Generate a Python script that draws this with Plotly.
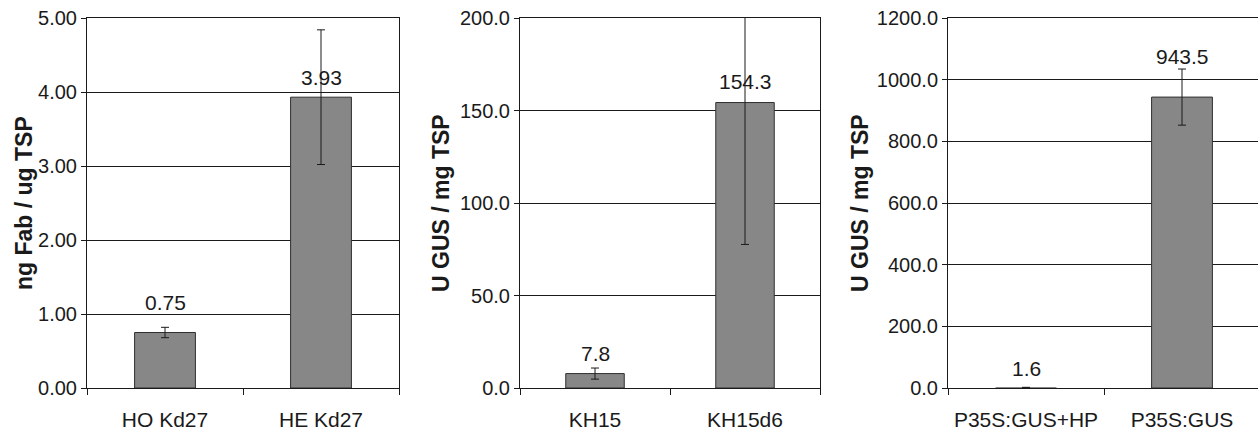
import plotly.graph_objects as go

# ---- data ----
cats1 = ["HO Kd27", "HE Kd27"]
vals1 = [0.75, 3.93]
err1 = [0.07, 0.91]
labels1 = ["0.75", "3.93"]

cats2 = ["KH15", "KH15d6"]
vals2 = [7.8, 154.3]
err2 = [3.0, 76.7]
labels2 = ["7.8", "154.3"]

cats3 = ["P35S:GUS+HP", "P35S:GUS"]
vals3 = [1.6, 943.5]
err3 = [0.6, 91.0]
labels3 = ["1.6", "943.5"]

titles = ["ng Fab / ug TSP", "U GUS / mg TSP", "U GUS / mg TSP"]
yranges = [[0, 5], [0, 200], [0, 1200]]
ydtick = [1, 50, 200]
yfmt = [".2f", ".1f", ".1f"]

# ---- layout / style ----
W, H = 1258, 431
FONT = "Liberation Sans, Arial, sans-serif"
INK = "#1a1a1a"
BAR = "#878787"
label_shift = [[30, 20], [20, 21], [19, 41]]
outline_w = [[1, 1], [1, 1], [0, 1]]
domains = [[87 / W, 399 / W], [520 / W, 820 / W], [948 / W, 1.0]]
title_x = [24 / W, 441 / W, 860 / W]
xranges = [[-0.5, 1.5], [-0.5, 1.5], [-0.5, -0.5 + 310 / 156]]

fig = go.Figure()
panels = [(cats1, vals1, err1, labels1), (cats2, vals2, err2, labels2), (cats3, vals3, err3, labels3)]
for i, (c, v, e, lab) in enumerate(panels):
    n = "" if i == 0 else str(i + 1)
    fig.add_trace(go.Bar(
        x=c, y=v, xaxis="x" + n, yaxis="y" + n, width=0.39,
        marker=dict(color=BAR, line=dict(color="#303030", width=outline_w[i])),
        error_y=dict(type="data", array=e, visible=True, color=INK, thickness=1, width=4),
        showlegend=False, hoverinfo="skip",
    ))
    for j, (cc, vv, tt) in enumerate(zip(c, v, lab)):
        fig.add_annotation(x=cc, y=vv, xref="x" + n, yref="y" + n, text=tt, showarrow=False,
                           yanchor="middle", yshift=label_shift[i][j],
                           font=dict(family=FONT, size=21, color=INK))
    fig.add_annotation(x=title_x[i], y=0.5, xref="paper", yref="paper", text="<b>" + titles[i] + "</b>",
                       textangle=-90, showarrow=False, xanchor="center", yanchor="middle",
                       font=dict(family=FONT, size=23, color=INK))
    fig.layout["xaxis" + n] = dict(
        domain=domains[i], anchor="y" + n, type="category", range=xranges[i],
        showline=True, linecolor=INK, linewidth=1, mirror=True,
        ticks="outside", ticklen=6, tickcolor=INK, tickson="boundaries",
        showgrid=False, tickfont=dict(family=FONT, size=21, color=INK),
        ticklabelstandoff=13, fixedrange=True,
    )
    fig.layout["yaxis" + n] = dict(
        domain=[0, 1], anchor="x" + n, range=yranges[i], dtick=ydtick[i], tickformat=yfmt[i],
        showline=True, linecolor=INK, linewidth=1, mirror=(i < 2),
        ticks="outside", ticklen=5, tickcolor=INK,
        showgrid=True, gridcolor=INK, gridwidth=1, zeroline=False,
        tickfont=dict(family=FONT, size=20, color=INK), fixedrange=True,
    )

fig.update_layout(
    width=W, height=H, margin=dict(l=0, r=0, t=18, b=43),
    paper_bgcolor="white", plot_bgcolor="white", bargap=0.6,
)
fig.write_html("out.html")
